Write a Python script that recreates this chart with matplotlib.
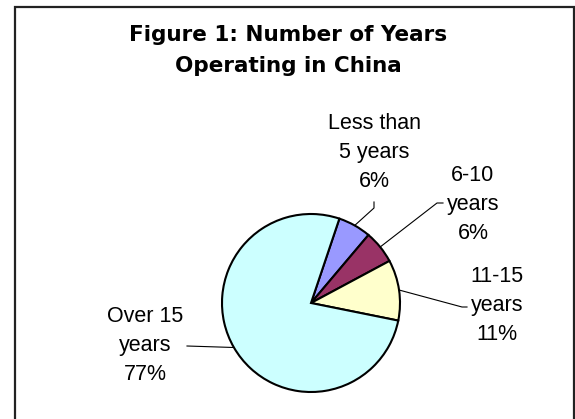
import matplotlib
matplotlib.use("Agg")
import matplotlib.pyplot as plt
from matplotlib.patches import Rectangle
import numpy as np

categories = ["Less than\n5 years", "6-10\nyears", "11-15\nyears", "Over 15\nyears"]
shares = [6, 6, 11, 77]
colors = ["#9999FF", "#993366", "#FFFFCC", "#CCFFFF"]

W, H = 575, 419
fig = plt.figure(figsize=(W / 100, H / 100), dpi=100)
fig.patch.set_facecolor("white")

# chart frame
fig.patches.append(Rectangle((14.5 / W, -0.05), 559 / W, 1.05 - 7.5 / H,
                             transform=fig.transFigure, fill=False,
                             edgecolor="#222222", linewidth=1.6))

fig.text(288 / W, 1 - 35 / H, "Figure 1: Number of Years", ha="center", va="center",
         fontsize=15.5, fontweight="bold", family="DejaVu Sans")
fig.text(288 / W, 1 - 66 / H, "Operating in China", ha="center", va="center",
         fontsize=15.5, fontweight="bold", family="DejaVu Sans")

# pie centre and radius in pixels
cx, cy, r = 311, 303, 89
ax = fig.add_axes([(cx - r) / W, (H - cy - r) / H, 2 * r / W, 2 * r / H])

wedges, _ = ax.pie(shares, colors=colors, startangle=71.4, counterclock=False,
                   radius=1, wedgeprops=dict(edgecolor="black", linewidth=1.5))
ax.set_xlim(-1, 1)
ax.set_ylim(-1, 1)
ax.axis("off")


def px(x, y):
    return (x - cx) / r, (cy - y) / r


# label centres and leader starts in pixels
label_pos = [(374, 152), (473, 204), (497, 305), (145, 346)]
leader_start = [[(374, 202), (374, 208)], [(443, 203), (437, 203)],
                [(467, 307), (462, 307)], [(187, 346)]]

for w, cat, val, (lx, ly), pts in zip(wedges, categories, shares, label_pos, leader_start):
    mid = np.deg2rad((w.theta1 + w.theta2) / 2)
    ex, ey = np.cos(mid), np.sin(mid)
    xs = [px(*p)[0] for p in pts] + [ex]
    ys = [px(*p)[1] for p in pts] + [ey]
    ax.plot(xs, ys, color="black", linewidth=0.8, clip_on=False)
    tx, ty = px(lx, ly)
    ax.text(tx, ty, f"{cat}\n{val}%", ha="center", va="center", fontsize=15.5,
            family="Liberation Sans", linespacing=1.5, clip_on=False)

fig.savefig("out.png", dpi=100)
